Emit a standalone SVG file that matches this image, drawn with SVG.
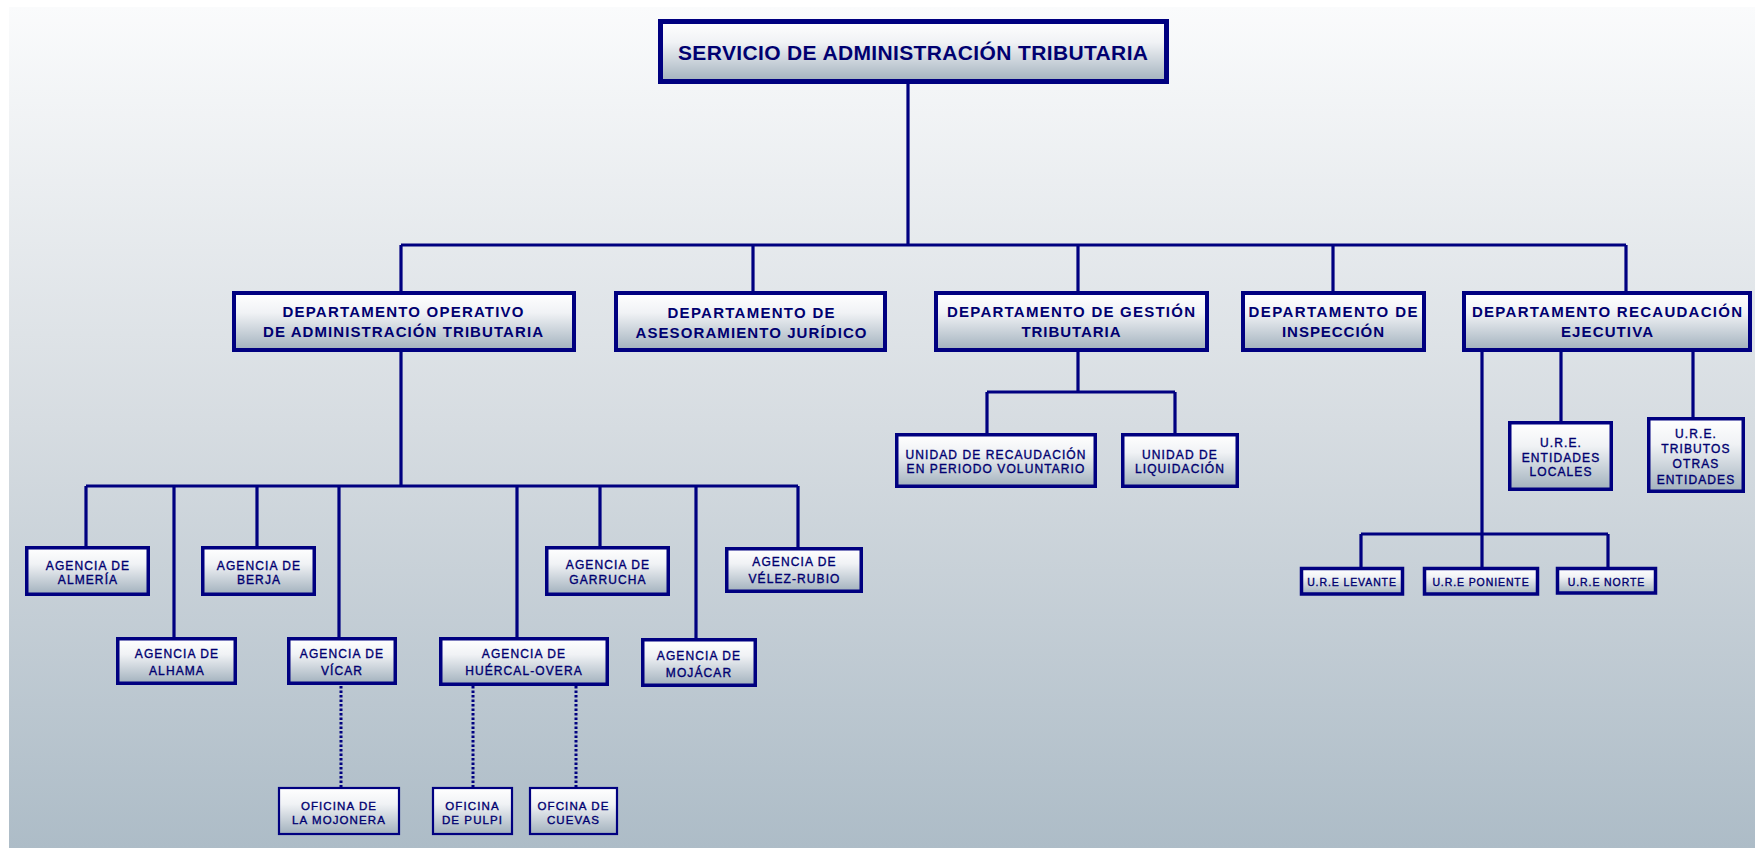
<svg xmlns="http://www.w3.org/2000/svg" width="1755" height="848" viewBox="0 0 1755 848">
<defs>
<linearGradient id="bg" x1="0" y1="0" x2="0" y2="1">
<stop offset="0" stop-color="#fafbfc"/>
<stop offset="0.5" stop-color="#d6dce1"/>
<stop offset="1" stop-color="#adbcc7"/>
</linearGradient>
<linearGradient id="box" x1="0" y1="0" x2="0" y2="1">
<stop offset="0" stop-color="#ffffff"/>
<stop offset="0.35" stop-color="#f0f2f5"/>
<stop offset="1" stop-color="#a2b1bd"/>
</linearGradient>
<style>
.b{fill:url(#box);stroke:#000080}
.b5{stroke-width:5}
.b4{stroke-width:4}
.b3{stroke-width:3.5}
.b2{stroke-width:2.2}
.c{fill:none;stroke:#000080;stroke-width:3.2}
.d{fill:none;stroke:#000080;stroke-width:3;stroke-dasharray:2.5 2}
text{font-family:"Liberation Sans",Arial,sans-serif;fill:#000070;text-anchor:middle}
.t0{font-size:21px;font-weight:bold}
.t1{font-size:15px;font-weight:bold}
.t2{font-size:12px;letter-spacing:1.1px;stroke:#000070;stroke-width:0.35}
.t3{font-size:11.5px;letter-spacing:1.1px;stroke:#000070;stroke-width:0.35}
.t4{font-size:10.5px;letter-spacing:0.9px;stroke:#000070;stroke-width:0.35}
</style>
</defs>
<rect x="0" y="0" width="1755" height="848" fill="#ffffff"/>
<rect x="9" y="7" width="1746" height="841" fill="url(#bg)"/>

<g id="connectors">
<path class="c" d="M908 84V245M401 245H1626M401 245V291M753 245V291M1078 245V291M1333 245V291M1626 245V291"/>
<path class="c" d="M401 352V486M86 486H798M86 486V546M174 486V637M257 486V546M339 486V637M517 486V637M600 486V546M696 486V638M798 486V547"/>
<path class="d" d="M341 686V787M473 686V787M576 686V787"/>
<path class="c" d="M1078 352V392M987 392H1175M987 392V433M1175 392V433"/>
<path class="c" d="M1482 352V567M1361 534H1608M1361 534V567M1608 534V567M1561 352V421M1693 352V417"/>
</g>

<g id="sat">
<rect class="b b5" x="660.5" y="21.5" width="506" height="60"/>
<text class="t0" x="913" y="60" textLength="470">SERVICIO DE ADMINISTRACIÓN TRIBUTARIA</text>
</g>

<g id="dep-operativo">
<rect class="b b4" x="234" y="293" width="340" height="57"/>
<text class="t1" x="403" y="317" textLength="241">DEPARTAMENTO OPERATIVO</text>
<text class="t1" x="403" y="337" textLength="280">DE ADMINISTRACIÓN TRIBUTARIA</text>
</g>
<g id="dep-juridico">
<rect class="b b4" x="616" y="293" width="269" height="57"/>
<text class="t1" x="751" y="318" textLength="167">DEPARTAMENTO DE</text>
<text class="t1" x="751" y="338" textLength="231">ASESORAMIENTO JURÍDICO</text>
</g>
<g id="dep-gestion">
<rect class="b b4" x="936" y="293" width="271" height="57"/>
<text class="t1" x="1071" y="317" textLength="248">DEPARTAMENTO DE GESTIÓN</text>
<text class="t1" x="1071" y="337" textLength="99">TRIBUTARIA</text>
</g>
<g id="dep-inspeccion">
<rect class="b b4" x="1243" y="293" width="181" height="57"/>
<text class="t1" x="1333" y="317" textLength="169">DEPARTAMENTO DE</text>
<text class="t1" x="1333" y="337" textLength="102">INSPECCIÓN</text>
</g>
<g id="dep-recaudacion">
<rect class="b b4" x="1464" y="293" width="286" height="57"/>
<text class="t1" x="1607" y="317" textLength="270">DEPARTAMENTO RECAUDACIÓN</text>
<text class="t1" x="1607" y="337" textLength="92">EJECUTIVA</text>
</g>

<g id="ag-almeria">
<rect class="b b3" x="26.75" y="547.75" width="121.5" height="46.5"/>
<text class="t2" x="88" y="569.5">AGENCIA DE</text>
<text class="t2" x="88" y="584">ALMERÍA</text>
</g>
<g id="ag-berja">
<rect class="b b3" x="202.75" y="547.75" width="111.5" height="46.5"/>
<text class="t2" x="259" y="569.5">AGENCIA DE</text>
<text class="t2" x="259" y="584">BERJA</text>
</g>
<g id="ag-garrucha">
<rect class="b b3" x="546.75" y="547.75" width="121.5" height="46.5"/>
<text class="t2" x="608" y="569">AGENCIA DE</text>
<text class="t2" x="608" y="583.5">GARRUCHA</text>
</g>
<g id="ag-velez">
<rect class="b b3" x="726.75" y="548.75" width="134.5" height="42.5"/>
<text class="t2" x="794.5" y="566">AGENCIA DE</text>
<text class="t2" x="794.5" y="582.5">VÉLEZ-RUBIO</text>
</g>
<g id="ag-alhama">
<rect class="b b3" x="117.75" y="638.75" width="117.5" height="44.5"/>
<text class="t2" x="177" y="657.5">AGENCIA DE</text>
<text class="t2" x="177" y="674.5">ALHAMA</text>
</g>
<g id="ag-vicar">
<rect class="b b3" x="288.75" y="638.75" width="106.5" height="44.5"/>
<text class="t2" x="342" y="657.5">AGENCIA DE</text>
<text class="t2" x="342" y="674.5">VÍCAR</text>
</g>
<g id="ag-huercal">
<rect class="b b3" x="440.75" y="638.75" width="166.5" height="45.5"/>
<text class="t2" x="524" y="657.5">AGENCIA DE</text>
<text class="t2" x="524" y="674.5">HUÉRCAL-OVERA</text>
</g>
<g id="ag-mojacar">
<rect class="b b3" x="642.75" y="639.75" width="112.5" height="45.5"/>
<text class="t2" x="699" y="659.5">AGENCIA DE</text>
<text class="t2" x="699" y="676.5">MOJÁCAR</text>
</g>

<g id="of-mojonera">
<rect class="b b2" x="279" y="788" width="120" height="46"/>
<text class="t3" x="339" y="809.5">OFICINA DE</text>
<text class="t3" x="339" y="823.5">LA MOJONERA</text>
</g>
<g id="of-pulpi">
<rect class="b b2" x="433" y="788" width="79" height="46"/>
<text class="t3" x="472.5" y="809.5">OFICINA</text>
<text class="t3" x="472.5" y="823.5">DE PULPI</text>
</g>
<g id="of-cuevas">
<rect class="b b2" x="530" y="788" width="87" height="46"/>
<text class="t3" x="573.5" y="809.5">OFCINA DE</text>
<text class="t3" x="573.5" y="823.5">CUEVAS</text>
</g>

<g id="un-voluntario">
<rect class="b b3" x="896.75" y="434.75" width="198.5" height="51.5"/>
<text class="t2" x="996" y="458.5">UNIDAD DE RECAUDACIÓN</text>
<text class="t2" x="996" y="472.5">EN PERIODO VOLUNTARIO</text>
</g>
<g id="un-liquidacion">
<rect class="b b3" x="1122.75" y="434.75" width="114.5" height="51.5"/>
<text class="t2" x="1180" y="458.5">UNIDAD DE</text>
<text class="t2" x="1180" y="472.5">LIQUIDACIÓN</text>
</g>

<g id="ure-locales">
<rect class="b b3" x="1509.75" y="422.75" width="101.5" height="66.5"/>
<text class="t2" x="1561" y="446.5">U.R.E.</text>
<text class="t2" x="1561" y="461.5">ENTIDADES</text>
<text class="t2" x="1561" y="475.5">LOCALES</text>
</g>
<g id="ure-otras">
<rect class="b b3" x="1648.75" y="418.75" width="94.5" height="72.5"/>
<text class="t2" x="1696" y="437.5">U.R.E.</text>
<text class="t2" x="1696" y="452.5">TRIBUTOS</text>
<text class="t2" x="1696" y="467.5">OTRAS</text>
<text class="t2" x="1696" y="483.5">ENTIDADES</text>
</g>
<g id="ure-levante">
<rect class="b b3" x="1301.5" y="568.5" width="101" height="25.5"/>
<text class="t4" x="1352" y="586">U.R.E LEVANTE</text>
</g>
<g id="ure-poniente">
<rect class="b b3" x="1424.5" y="568.5" width="113" height="25.5"/>
<text class="t4" x="1481" y="586">U.R.E PONIENTE</text>
</g>
<g id="ure-norte">
<rect class="b b3" x="1557.5" y="568.5" width="98" height="24.5"/>
<text class="t4" x="1606.5" y="586">U.R.E NORTE</text>
</g>
</svg>
